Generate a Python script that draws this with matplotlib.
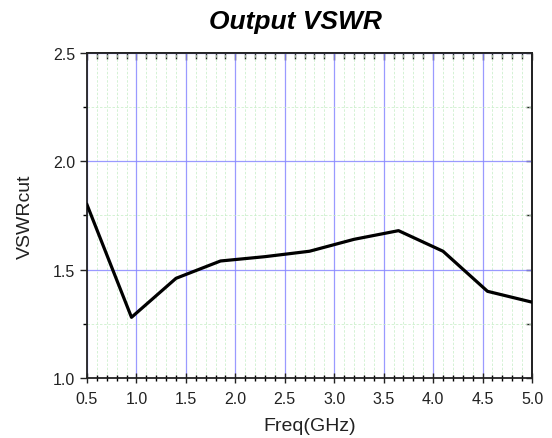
import matplotlib
matplotlib.use("Agg")
import matplotlib.pyplot as plt
from matplotlib.ticker import MultipleLocator, FormatStrFormatter, NullFormatter

freq = [0.5, 0.95, 1.4, 1.85, 2.3, 2.75, 3.2, 3.65, 4.1, 4.55, 5.0]
vswr = [1.80, 1.28, 1.46, 1.54, 1.56, 1.585, 1.64, 1.68, 1.585, 1.40, 1.35]

plt.rcParams['font.family'] = ['Liberation Sans', 'DejaVu Sans']

fig = plt.figure(figsize=(5.52, 4.39), dpi=100)
ax = fig.add_axes([0.1576, 0.1367, 0.8062, 0.7403])

ax.plot(freq, vswr, color='black', lw=2.3, zorder=5)

ax.set_xlim(0.5, 5.0)
ax.set_ylim(1.0, 2.5)
ax.xaxis.set_major_locator(MultipleLocator(0.5))
ax.xaxis.set_minor_locator(MultipleLocator(0.1))
ax.yaxis.set_major_locator(MultipleLocator(0.5))
ax.yaxis.set_minor_locator(MultipleLocator(0.25))

ax.grid(which='major', color='#8888ff', lw=0.9, alpha=0.85)
ax.grid(which='minor', color='#c8eec8', lw=0.6, ls=(0, (3, 2)), alpha=0.9)
ax.set_axisbelow(True)

ax.tick_params(axis='x', which='major', direction='inout', length=7, width=1, labelsize=11.5, colors='#222222', pad=6)
ax.tick_params(axis='x', which='minor', direction='inout', length=5, width=1)
ax.tick_params(axis='y', which='major', direction='out', length=5, width=1, labelsize=11.5, colors='#222222')
ax.tick_params(axis='y', which='minor', direction='out', length=3, width=1)
ax.xaxis.set_major_formatter(FormatStrFormatter('%.1f'))
ax.yaxis.set_major_formatter(FormatStrFormatter('%.1f'))

top = ax.secondary_xaxis('top')
top.xaxis.set_major_locator(MultipleLocator(0.5))
top.xaxis.set_minor_locator(MultipleLocator(0.1))
top.xaxis.set_major_formatter(NullFormatter())
top.tick_params(which='major', direction='in', length=5, width=1, colors='#222222')
top.tick_params(which='minor', direction='in', length=4, width=1, colors='#222222')

right = ax.secondary_yaxis('right')
right.yaxis.set_major_locator(MultipleLocator(0.5))
right.yaxis.set_minor_locator(MultipleLocator(0.25))
right.yaxis.set_major_formatter(NullFormatter())
right.tick_params(which='both', direction='in', length=4, width=1, colors='#222222')

for s in list(ax.spines.values()) + [top.spines['top'], right.spines['right']]:
    s.set_linewidth(1.3)
    s.set_color('#222222')

ax.set_xlabel('Freq(GHz)', fontsize=14, color='#222222', labelpad=8)
ax.set_ylabel('VSWRcut', fontsize=14, color='#222222', labelpad=14)
fig.text(295 / 552, 1 - 22 / 439, 'Output VSWR', fontsize=19, fontweight='bold',
         style='italic', ha='center', va='center')

fig.savefig('out.png', dpi=100)
